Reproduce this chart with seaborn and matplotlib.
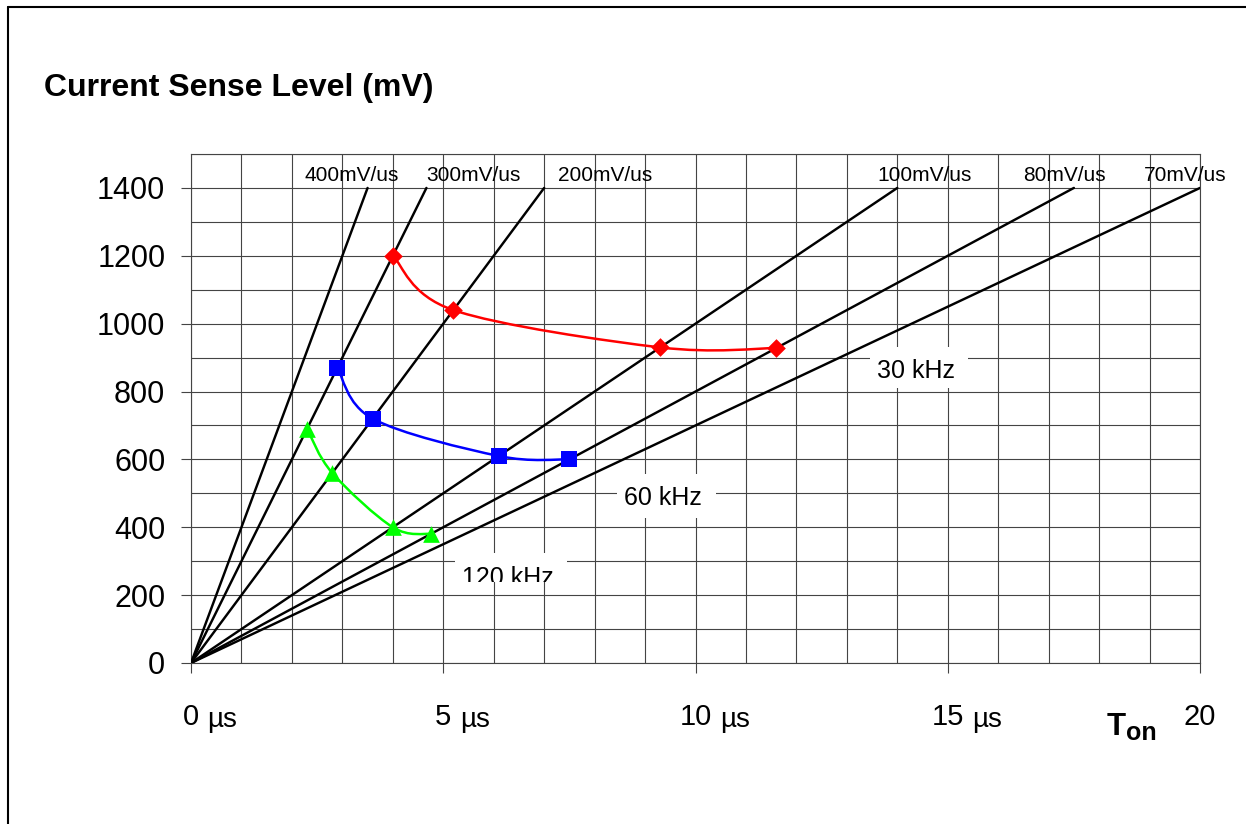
"""
Current sense level vs. on-time chart: constant-slope rays plus operating points
for three switching frequencies.
"""

import numpy as np
import pandas as pd
import matplotlib
matplotlib.use("Agg")
import matplotlib.pyplot as plt
import seaborn as sns
from matplotlib.path import Path
from matplotlib.patches import PathPatch, Rectangle
from matplotlib.lines import Line2D
from matplotlib.ticker import MultipleLocator

# ---- data ----
SLOPES = [400, 300, 200, 100, 80, 70]          # mV/us
SLOPE_LABELS = ["400mV/us", "300mV/us", "200mV/us", "100mV/us", "80mV/us", "70mV/us"]
SLOPE_TOP = 1400                                # rays stop at this level (mV)

TON_30K = [4.0, 5.2, 9.3, 11.6]
MV_30K = [1200, 1040, 930, 928]
TON_60K = [2.9, 3.6, 6.1, 7.5]
MV_60K = [870, 720, 610, 600]
TON_120K = [2.3, 2.8, 4.0, 4.75]
MV_120K = [690, 560, 400, 380]

X_TICKS = [0, 5, 10, 15, 20]
X_TICK_LABELS = ["0", "5", "10", "15", "20"]
Y_TICKS = [0, 200, 400, 600, 800, 1000, 1200, 1400]

# ---- layout / style ----
W, H = 1246, 824
GRID = "#444444"
FONT = ["Liberation Sans", "DejaVu Sans"]

# where the slope labels sit (x in us, baseline in mV)
SLOPE_LABEL_X = [3.19, 5.59, 8.2, 14.55, 17.32, 19.7]
SLOPE_LABEL_Y = 1420

# frequency labels: text centre x, baseline y, white box (x0, x1, y0, y1)
FREQ_LABELS = {
    "30 kHz": (14.37, 840, (13.46, 15.4, 810, 931)),
    "60 kHz": (9.35, 466, (8.45, 10.4, 427, 556)),
    "120 kHz": (6.29, 230, (5.23, 7.45, 239, 324)),
}


def smooth_path(xs, ys):
    """Bezier path through the points (Catmull-Rom style, like a smoothed chart line)"""
    pts = np.column_stack([xs, ys]).astype(float)
    ext = np.vstack([pts[0], pts, pts[-1]])
    verts = [pts[0]]
    codes = [Path.MOVETO]
    for i in range(len(pts) - 1):
        p0, p1, p2, p3 = ext[i], ext[i + 1], ext[i + 2], ext[i + 3]
        verts += [p1 + (p2 - p0) / 6, p2 - (p3 - p1) / 6, p2]
        codes += [Path.CURVE4] * 3
    return Path(verts, codes)


sns.set_theme(style="white")
plt.rcParams["font.family"] = FONT
plt.rcParams["axes.unicode_minus"] = False
plt.rcParams["text.color"] = "black"
plt.rcParams["xtick.labelcolor"] = "black"
plt.rcParams["ytick.labelcolor"] = "black"

fig = plt.figure(figsize=(W / 100, H / 100), dpi=100)
ax = fig.add_axes([191 / W, 1 - 663 / H, (1200 - 191) / W, (663 - 154) / H])

# rays from the origin
rays = []
for s, lab in zip(SLOPES, SLOPE_LABELS):
    rays.append({"t": 0.0, "mv": 0.0, "slope": lab})
    rays.append({"t": SLOPE_TOP / s, "mv": SLOPE_TOP, "slope": lab})
rays_df = pd.DataFrame(rays)
sns.lineplot(data=rays_df, x="t", y="mv", hue="slope", estimator=None,
             palette={lab: "black" for lab in SLOPE_LABELS}, legend=False,
             linewidth=1.75, ax=ax, zorder=3)

for lab, x in zip(SLOPE_LABELS, SLOPE_LABEL_X):
    ax.text(x, SLOPE_LABEL_Y, lab, ha="center", va="baseline", fontsize=15,
            color="black", zorder=4)

# operating point curves
series = [
    (TON_30K, MV_30K, "#ff0000", "D", 9.5),
    (TON_60K, MV_60K, "#0000ff", "s", 11),
    (TON_120K, MV_120K, "#00ff00", "^", 12),
]
for xs, ys, color, marker, ms in series:
    ax.add_patch(PathPatch(smooth_path(xs, ys), facecolor="none", edgecolor=color,
                           linewidth=1.8, zorder=4))
    sns.scatterplot(x=xs, y=ys, marker=marker, s=ms ** 2, color=color,
                    linewidth=0, ax=ax, zorder=5)

# frequency labels on white boxes
for text, (tx, ty, (x0, x1, y0, y1)) in FREQ_LABELS.items():
    rect = Rectangle((x0, y0), x1 - x0, y1 - y0, facecolor="white",
                     edgecolor="none", zorder=1)
    ax.add_patch(rect)
    t = ax.text(tx, ty, text, ha="center", va="baseline", fontsize=18,
                color="black", zorder=1.1)
    t.set_clip_on(True)
    t.set_clip_path(rect)

# axes, grid, ticks
ax.set_xlim(0, 20)
ax.set_ylim(0, 1500)
ax.xaxis.set_major_locator(MultipleLocator(5))
ax.xaxis.set_minor_locator(MultipleLocator(1))
ax.yaxis.set_major_locator(MultipleLocator(200))
ax.yaxis.set_minor_locator(MultipleLocator(100))
ax.set_xticks(X_TICKS)
ax.set_xticklabels(X_TICK_LABELS)
ax.set_yticks(Y_TICKS)
ax.set_yticklabels([str(v) for v in Y_TICKS])
ax.set_axisbelow(True)
ax.grid(True, which="both", color=GRID, linewidth=0.8)
for sp in ax.spines.values():
    sp.set_color(GRID)
    sp.set_linewidth(0.8)
ax.tick_params(axis="x", which="major", direction="out", length=7.5, width=0.8,
               color=GRID, pad=21.5, labelsize=21, bottom=True)
ax.tick_params(axis="y", which="major", direction="out", length=7.5, width=0.8,
               color=GRID, pad=11, labelsize=22, left=True)
ax.tick_params(which="minor", length=0)
ax.set_xlabel("")
ax.set_ylabel("")

# "µs" after the numeric x tick labels
for tl in ax.get_xticklabels()[:-1]:
    ax.annotate("µs", xy=(1, 0), xycoords=tl, xytext=(6, -1),
                textcoords="offset points", ha="left", va="bottom", fontsize=20)

# titles
fig.text(44 / W, 1 - 88 / H, "Current Sense Level (mV)", ha="left", va="center",
         fontsize=23, fontweight="bold")
fig.text(1107 / W, 1 - 735 / H, "T", ha="left", va="baseline", fontsize=22.5,
         fontweight="bold")
fig.text(1126 / W, 1 - 740 / H, "on", ha="left", va="baseline", fontsize=18,
         fontweight="bold")

# page frame
fig.add_artist(Line2D([8 / W, 8 / W], [0, 1 - 7 / H], transform=fig.transFigure,
                      color="black", linewidth=1.5))
fig.add_artist(Line2D([8 / W, 1], [1 - 7 / H, 1 - 7 / H], transform=fig.transFigure,
                      color="black", linewidth=1.5))

fig.savefig("out.png", dpi=100)
plt.close(fig)
